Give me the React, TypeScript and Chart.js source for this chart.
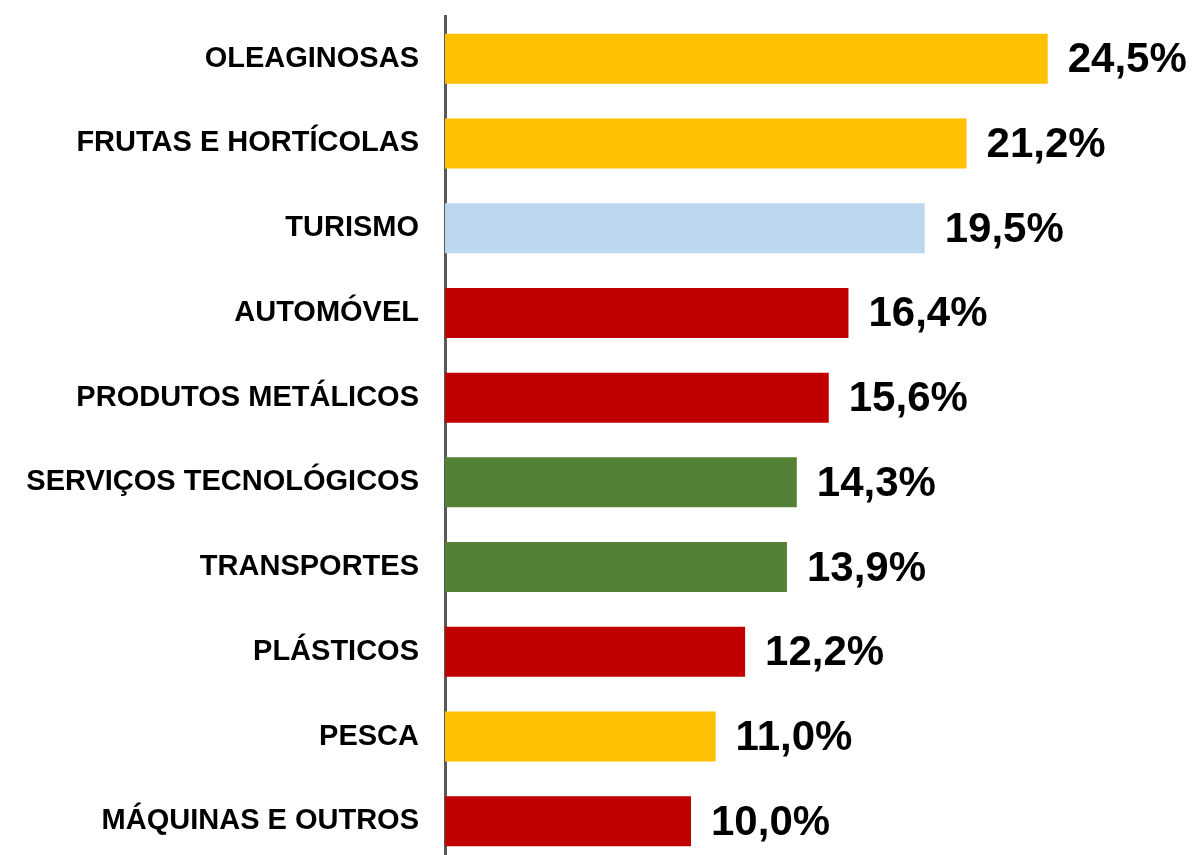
import React, { useEffect, useRef } from "react";
import { Chart, registerables } from "chart.js";

Chart.register(...registerables);

const categories = [
  "OLEAGINOSAS",
  "FRUTAS E HORTÍCOLAS",
  "TURISMO",
  "AUTOMÓVEL",
  "PRODUTOS METÁLICOS",
  "SERVIÇOS TECNOLÓGICOS",
  "TRANSPORTES",
  "PLÁSTICOS",
  "PESCA",
  "MÁQUINAS E OUTROS",
];
const values = [24.5, 21.2, 19.5, 16.4, 15.6, 14.3, 13.9, 12.2, 11.0, 10.0];
const barColors = [
  "#FFC000",
  "#FFC000",
  "#BDD7EE",
  "#C00000",
  "#C00000",
  "#538135",
  "#538135",
  "#C00000",
  "#FFC000",
  "#C00000",
];

const valueLabels = {
  id: "valueLabels",
  afterDatasetsDraw(chart: any) {
    const ctx = chart.ctx;
    const meta = chart.getDatasetMeta(0);
    ctx.save();
    ctx.font = "bold 42px 'Liberation Sans', Arial, sans-serif";
    ctx.fillStyle = "#000000";
    ctx.textAlign = "left";
    ctx.textBaseline = "middle";
    meta.data.forEach((bar: any, i: number) => {
      const txt = values[i].toFixed(1).replace(".", ",") + "%";
      ctx.fillText(txt, bar.x + 20, bar.y + 2);
    });
    ctx.restore();
  },
};

export default function App() {
  const ref = useRef<HTMLCanvasElement | null>(null);
  useEffect(() => {
    if (!ref.current) return;
    const chart = new Chart(ref.current, {
      type: "bar",
      data: {
        labels: categories,
        datasets: [
          {
            data: values,
            backgroundColor: barColors,
            barPercentage: 0.59,
            categoryPercentage: 1,
          },
        ],
      },
      options: {
        indexAxis: "y",
        animation: false,
        responsive: false,
        layout: { padding: { top: 15, right: 9, bottom: 6, left: 0 } },
        plugins: { legend: { display: false }, tooltip: { enabled: false } },
        scales: {
          x: {
            min: 0,
            max: 30,
            display: false,
            grid: { display: false },
          },
          y: {
            afterFit: (s: any) => {
              s.width = 445;
            },
            grid: { display: false, drawTicks: false },
            border: { display: true, color: "#595959", width: 3 },
            ticks: {
              padding: 26,
              color: "#000000",
              font: { family: "'Liberation Sans', Arial, sans-serif", size: 29, weight: "bold" },
            },
          },
        },
      },
      plugins: [valueLabels],
    });
    return () => chart.destroy();
  }, []);
  return (
    <div style={{ position: "fixed", left: 0, top: 0, width: 1192, height: 855, overflow: "hidden", background: "#fff" }}>
      <canvas ref={ref} width={1192} height={934} style={{ display: "block", marginTop: -27 }} />
    </div>
  );
}
